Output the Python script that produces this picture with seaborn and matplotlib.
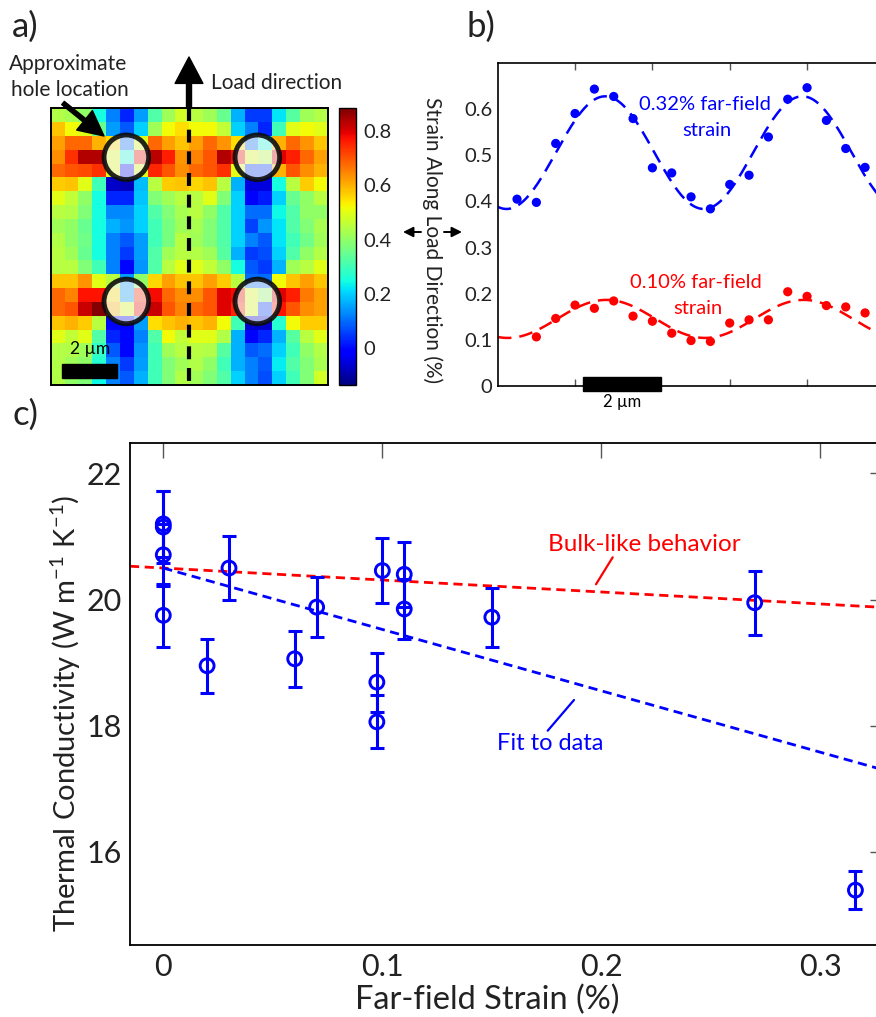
import numpy as np
import matplotlib
matplotlib.use("Agg")
import matplotlib.pyplot as plt
from matplotlib.patches import Circle, Rectangle
from matplotlib.lines import Line2D
import seaborn as sns

sns.set_theme(style="white")
plt.rcParams["font.family"] = ["Lato", "DejaVu Sans"]
plt.rcParams["mathtext.fontset"] = "custom"
plt.rcParams["mathtext.rm"] = "Lato"
plt.rcParams["mathtext.it"] = "Lato:italic"
plt.rcParams["text.color"] = "#222222"

# ---------------- data ----------------
# (a) strain map, 20 x 20 cells of 0.5 um, strain along load direction (%)
strain_map = [
    [0.44, 0.43, 0.40, 0.25, 0.12, 0.03, 0.15, 0.32, 0.42, 0.48, 0.45, 0.42, 0.35, 0.17, 0.05, 0.05, 0.22, 0.33, 0.42, 0.44],
    [0.58, 0.52, 0.50, 0.35, 0.15, 0.08, 0.20, 0.42, 0.52, 0.55, 0.52, 0.52, 0.46, 0.20, 0.12, 0.03, 0.30, 0.50, 0.52, 0.50],
    [0.62, 0.68, 0.68, 0.60, 0.55, 0.10, 0.50, 0.68, 0.62, 0.58, 0.62, 0.68, 0.63, 0.55, 0.10, 0.25, 0.60, 0.68, 0.63, 0.58],
    [0.64, 0.74, 0.84, 0.84, 0.50, 0.25, 0.78, 0.83, 0.76, 0.63, 0.65, 0.70, 0.84, 0.78, 0.50, 0.45, 0.80, 0.76, 0.68, 0.62],
    [0.68, 0.70, 0.71, 0.74, 0.50, 0.00, 0.50, 0.75, 0.70, 0.64, 0.68, 0.70, 0.74, 0.50, 0.05, 0.05, 0.60, 0.70, 0.64, 0.60],
    [0.57, 0.58, 0.50, 0.30, -0.07, -0.08, 0.18, 0.45, 0.57, 0.58, 0.56, 0.58, 0.45, 0.17, -0.05, -0.05, 0.25, 0.45, 0.57, 0.52],
    [0.50, 0.46, 0.40, 0.25, 0.03, 0.03, 0.19, 0.38, 0.42, 0.45, 0.45, 0.50, 0.38, 0.20, -0.01, 0.02, 0.20, 0.35, 0.40, 0.45],
    [0.45, 0.44, 0.38, 0.25, 0.13, 0.13, 0.20, 0.32, 0.38, 0.43, 0.45, 0.40, 0.32, 0.20, 0.10, 0.10, 0.24, 0.32, 0.40, 0.40],
    [0.42, 0.40, 0.35, 0.25, 0.17, 0.14, 0.20, 0.30, 0.37, 0.42, 0.43, 0.38, 0.32, 0.20, 0.06, 0.14, 0.22, 0.32, 0.38, 0.43],
    [0.44, 0.40, 0.36, 0.25, 0.12, 0.08, 0.15, 0.30, 0.37, 0.45, 0.42, 0.38, 0.32, 0.20, 0.12, 0.08, 0.22, 0.30, 0.36, 0.42],
    [0.45, 0.42, 0.35, 0.25, 0.12, 0.05, 0.15, 0.32, 0.42, 0.45, 0.44, 0.42, 0.33, 0.17, 0.05, 0.07, 0.20, 0.32, 0.40, 0.44],
    [0.45, 0.45, 0.38, 0.30, 0.12, 0.00, 0.14, 0.32, 0.45, 0.50, 0.50, 0.46, 0.40, 0.25, 0.08, 0.05, 0.17, 0.42, 0.45, 0.50],
    [0.58, 0.58, 0.63, 0.50, 0.45, 0.15, 0.40, 0.56, 0.62, 0.58, 0.58, 0.62, 0.57, 0.45, 0.10, 0.10, 0.52, 0.58, 0.62, 0.58],
    [0.68, 0.65, 0.77, 0.77, 0.55, 0.15, 0.75, 0.78, 0.68, 0.64, 0.64, 0.70, 0.80, 0.78, 0.50, 0.40, 0.80, 0.76, 0.66, 0.62],
    [0.68, 0.70, 0.82, 0.88, 0.60, 0.50, 0.78, 0.82, 0.70, 0.65, 0.68, 0.70, 0.80, 0.75, 0.50, 0.05, 0.77, 0.70, 0.64, 0.62],
    [0.58, 0.60, 0.57, 0.45, 0.00, -0.03, 0.15, 0.55, 0.58, 0.60, 0.58, 0.60, 0.52, 0.30, -0.06, -0.06, 0.27, 0.52, 0.57, 0.57],
    [0.50, 0.46, 0.50, 0.32, 0.03, 0.00, 0.12, 0.32, 0.52, 0.46, 0.50, 0.50, 0.44, 0.17, -0.02, 0.03, 0.17, 0.33, 0.45, 0.50],
    [0.44, 0.44, 0.42, 0.28, 0.08, 0.00, 0.14, 0.30, 0.42, 0.45, 0.45, 0.44, 0.33, 0.17, 0.08, 0.10, 0.20, 0.30, 0.40, 0.44],
    [0.44, 0.42, 0.40, 0.27, 0.12, 0.05, 0.15, 0.30, 0.38, 0.42, 0.44, 0.40, 0.30, 0.17, 0.12, 0.08, 0.23, 0.32, 0.38, 0.43],
    [0.44, 0.40, 0.38, 0.24, 0.12, 0.08, 0.17, 0.30, 0.38, 0.44, 0.42, 0.38, 0.32, 0.20, 0.12, 0.07, 0.20, 0.30, 0.38, 0.48],
]
strain_vmin, strain_vmax = -0.135, 0.884
cbar_ticks = [0, 0.2, 0.4, 0.6, 0.8]
cbar_labels = ["0", "0.2", "0.4", "0.6", "0.8"]
# hole centres (cell units) and radius
hole_x = [5.46, 14.92, 5.46, 14.92]
hole_y = [3.54, 3.54, 13.96, 13.96]
hole_r = 1.61

# (b) line profiles (position in um, strain in %)
pos_hi = [0.5, 1.0, 1.5, 2.0, 2.5, 3.0, 3.5, 4.0, 4.5, 5.0, 5.5, 6.0, 6.5, 7.0, 7.5, 8.0, 8.5, 9.0, 9.5]
strain_hi = [0.405, 0.398, 0.526, 0.591, 0.644, 0.628, 0.580, 0.473, 0.462, 0.410, 0.384,
             0.437, 0.457, 0.540, 0.622, 0.647, 0.576, 0.515, 0.474]
pos_lo = [1.0, 1.5, 2.0, 2.5, 3.0, 3.5, 4.0, 4.5, 5.0, 5.5, 6.0, 6.5, 7.0, 7.5, 8.0, 8.5, 9.0, 9.5]
strain_lo = [0.106, 0.146, 0.175, 0.168, 0.184, 0.151, 0.140, 0.114, 0.098, 0.096, 0.136,
             0.143, 0.143, 0.204, 0.194, 0.174, 0.171, 0.158]
profile_period = 5.1  # um
profile_ticks = ["0", "0.1", "0.2", "0.3", "0.4", "0.5", "0.6"]

# (c) thermal conductivity vs far-field strain
far_field = [0.0, 0.0, 0.0, 0.0, 0.02, 0.03, 0.06, 0.07, 0.0975, 0.0975, 0.10, 0.11, 0.11, 0.15, 0.27, 0.316]
kappa = [21.20, 21.15, 20.71, 19.75, 18.95, 20.50, 19.06, 19.88, 18.69, 18.06, 20.46, 20.40, 19.85, 19.72, 19.95, 15.39]
kappa_err = [0.52, 0.57, 0.49, 0.50, 0.43, 0.51, 0.44, 0.48, 0.47, 0.42, 0.51, 0.52, 0.47, 0.47, 0.51, 0.30]
bulk_line = (20.5, -1.9)    # intercept, slope
fit_line = (20.5, -9.74)    # intercept, slope
strain_ticks = ["0", "0.1", "0.2", "0.3"]
kappa_ticks = ["16", "18", "20", "22"]

# ---------------- figure ----------------
W, H = 876, 1017
fig = plt.figure(figsize=(W / 100, H / 100), dpi=100)


def fx(x):
    return x / W


def fy(y):
    return 1 - y / H


def box(l, t, r, b):
    return [fx(l), fy(b), (r - l) / W, (b - t) / H]


BLUE = (0, 0, 1)
RED = (1, 0, 0)

# ---- panel a: strain map ----
ax_a = fig.add_axes(box(50.7, 108.3, 327.7, 385.0))
ax_cb = fig.add_axes(box(339.3, 108.3, 356.0, 385.0))
sns.heatmap(np.array(strain_map), ax=ax_a, cbar_ax=ax_cb, cmap="jet",
            vmin=strain_vmin, vmax=strain_vmax, xticklabels=False, yticklabels=False,
            cbar_kws={"ticks": cbar_ticks})
for sp in ax_a.spines.values():
    sp.set_visible(True)
    sp.set_color("black")
    sp.set_linewidth(1.4)
for cx, cy in zip(hole_x, hole_y):
    ax_a.add_patch(Circle((cx, cy), hole_r, facecolor=(0.97, 0.97, 0.97, 0.7),
                          edgecolor=(0.05, 0.05, 0.05, 0.9), lw=3.5, zorder=3))
ax_a.plot([10, 10], [0, 20], color="black", lw=3.0, dashes=(3.1, 2.1), zorder=4)
ax_a.add_patch(Rectangle((0.82, 18.46), 4.0, 1.0, color="black", zorder=5))
ax_a.text(2.82, 17.75, "2 µm", ha="center", va="baseline", fontsize=12.5, color="black", zorder=5)

cb = ax_a.collections[0].colorbar
cb.outline.set_edgecolor("black")
cb.outline.set_linewidth(1.0)
ax_cb.tick_params(direction="in", length=3, width=1, colors="black", left=True, right=True,
                  labelsize=14.5, pad=5, labelcolor="#222222")
ax_cb.set_yticklabels(cbar_labels)

fig.text(fx(432.5), fy(240.5), "Strain Along Load Direction (%)", rotation=270,
         ha="center", va="center", fontsize=15)
arrow_small = dict(arrowstyle="-|>,head_length=0.5,head_width=0.25", color="black", lw=1.4,
                   shrinkA=0, shrinkB=0)
ax_a.annotate("", xy=(fx(403), fy(232)), xytext=(fx(421), fy(232)), xycoords="figure fraction",
              arrowprops=arrow_small, annotation_clip=False)
ax_a.annotate("", xy=(fx(462), fy(232)), xytext=(fx(444), fy(232)), xycoords="figure fraction",
              arrowprops=arrow_small, annotation_clip=False)

# load-direction arrow and hole pointer
ax_a.annotate("", xy=(fx(189), fy(57)), xytext=(fx(189), fy(108)), xycoords="figure fraction",
              arrowprops=dict(facecolor="black", edgecolor="black", width=3.6, headwidth=20,
                              headlength=19, shrink=0), annotation_clip=False)
fig.text(fx(211), fy(89), "Load direction", ha="left", va="baseline", fontsize=15)
ax_a.annotate("", xy=(fx(104), fy(136)), xytext=(fx(63), fy(103)), xycoords="figure fraction",
              arrowprops=dict(facecolor="black", edgecolor="black", width=3.0, headwidth=18,
                              headlength=18, shrink=0), annotation_clip=False)
fig.text(fx(68), fy(70), "Approximate", ha="center", va="baseline", fontsize=15)
fig.text(fx(70), fy(95.5), "hole location", ha="center", va="baseline", fontsize=15)

# ---- panel b: line profiles ----
ax_b = fig.add_axes(box(497.7, 63.3, 884.4, 385.7))


def harmonic_fit(x, y, xs, period):
    x = np.asarray(x)
    k = 2 * np.pi / period
    A = np.column_stack([np.ones_like(x), np.cos(k * x), np.sin(k * x)])
    coef, *_ = np.linalg.lstsq(A, np.asarray(y), rcond=None)
    As = np.column_stack([np.ones_like(xs), np.cos(k * xs), np.sin(k * xs)])
    return As @ coef


xs = np.linspace(0, 10, 300)
for px, py, col in [(pos_hi, strain_hi, BLUE), (pos_lo, strain_lo, RED)]:
    sns.lineplot(x=xs, y=harmonic_fit(px, py, xs, profile_period), ax=ax_b, color=col,
                 lw=1.8, linestyle=(0, (5.5, 3.2)))
    sns.scatterplot(x=px, y=py, ax=ax_b, color=col, s=44, edgecolor="none", zorder=3)
ax_b.set_xlim(0, 10)
ax_b.set_ylim(0, 0.7)
ax_b.set_xticks([2, 4, 6, 8])
ax_b.set_xticklabels([])
ax_b.set_yticks([0, 0.1, 0.2, 0.3, 0.4, 0.5, 0.6])
ax_b.set_yticklabels(profile_ticks)
ax_b.tick_params(axis="x", direction="in", length=5, width=1, colors="#555555", top=True, bottom=True)
ax_b.tick_params(axis="y", length=0, pad=4, labelsize=14.5, labelcolor="#222222")
for sp in ax_b.spines.values():
    sp.set_color("black")
    sp.set_linewidth(1.2)
ax_b.add_patch(Rectangle((2.21, -0.011), 2.0, 0.029, color="black", clip_on=False, zorder=5))
ax_b.text(3.21, -0.047, "2 µm", ha="center", va="baseline", fontsize=12, color="black")
fig.text(fx(704.5), fy(109.5), "0.32% far-field", ha="center", va="baseline", fontsize=14.5, color=BLUE)
fig.text(fx(706.5), fy(135.5), "strain", ha="center", va="baseline", fontsize=14.5, color=BLUE)
fig.text(fx(695.5), fy(287.5), "0.10% far-field", ha="center", va="baseline", fontsize=14.5, color=RED)
fig.text(fx(697.5), fy(314.5), "strain", ha="center", va="baseline", fontsize=14.5, color=RED)

# ---- panel c: conductivity ----
ax_c = fig.add_axes(box(130, 442.6, 885, 945))
xl = np.array([-0.0152, 0.3295])
ax_c.plot(xl, bulk_line[0] + bulk_line[1] * xl, color=RED, lw=2.0, linestyle=(0, (3.3, 2.0)))
xf = np.array([0.0, 0.3295])
ax_c.plot(xf, fit_line[0] + fit_line[1] * xf, color=BLUE, lw=2.0, linestyle=(0, (3.3, 2.0)))
ax_c.errorbar(far_field, kappa, yerr=kappa_err, fmt="none", ecolor=BLUE, elinewidth=2.2,
              capsize=5.2, capthick=2.2, zorder=3)
sns.scatterplot(x=far_field, y=kappa, ax=ax_c, marker="o", s=100, facecolor="none",
                edgecolor=BLUE, linewidth=2.1, zorder=4)
ax_c.set_xlim(-0.0152, 0.3295)
ax_c.set_ylim(14.52, 22.49)
ax_c.set_xticks([0, 0.1, 0.2, 0.3])
ax_c.set_xticklabels(strain_ticks)
ax_c.set_yticks([16, 18, 20, 22])
ax_c.set_yticklabels(kappa_ticks)
ax_c.tick_params(direction="in", length=11, width=1, colors="#555555", top=True, right=True,
                 labelsize=22, labelcolor="#222222")
ax_c.tick_params(axis="x", pad=6)
ax_c.tick_params(axis="y", pad=6)
for sp in ax_c.spines.values():
    sp.set_color("black")
    sp.set_linewidth(1.3)
fig.text(fx(487), fy(1000), "Far-field Strain (%)", ha="center", va="center", fontsize=23.5)
fig.text(fx(66), fy(713.5), r"Thermal Conductivity (W m$^{\mathregular{-1}}$ K$^{\mathregular{-1}}$)",
         rotation=90, ha="center", va="center", fontsize=21)

fig.text(fx(548), fy(551), "Bulk-like behavior", ha="left", va="baseline", fontsize=17.5, color=RED)
fig.add_artist(Line2D([fx(596), fx(612.7)], [fy(584.3), fy(557.3)], color=RED, lw=1.6,
                      transform=fig.transFigure))
fig.text(fx(497), fy(749.5), "Fit to data", ha="left", va="baseline", fontsize=17, color=BLUE)
fig.add_artist(Line2D([fx(547.7), fx(574)], [fy(730.7), fy(700)], color=BLUE, lw=1.6,
                      transform=fig.transFigure))

# panel letters
fig.text(fx(12), fy(37), "a)", ha="left", va="baseline", fontsize=25)
fig.text(fx(466), fy(37), "b)", ha="left", va="baseline", fontsize=25)
fig.text(fx(12), fy(425), "c)", ha="left", va="baseline", fontsize=25)

fig.savefig("out.png", dpi=100)
